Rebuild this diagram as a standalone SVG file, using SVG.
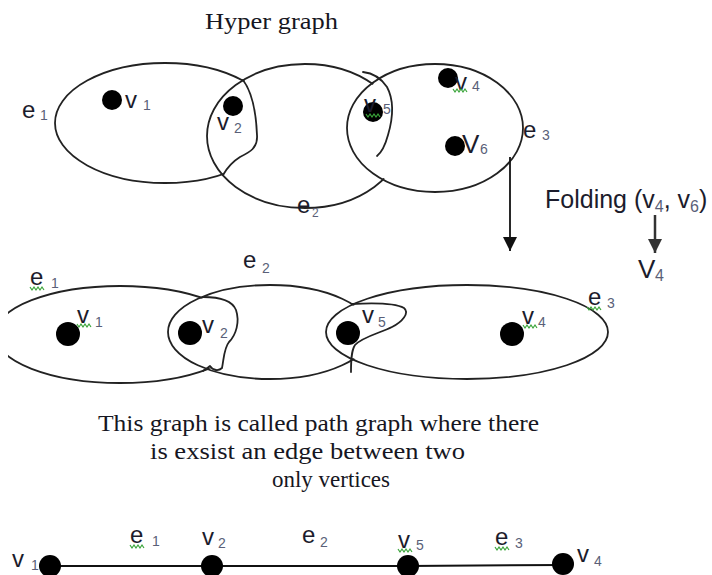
<svg xmlns="http://www.w3.org/2000/svg" xmlns:xlink="http://www.w3.org/1999/xlink" width="712" height="575" viewBox="0 0 712 575">
<style>
.edge{fill:none;stroke:#222;stroke-width:1.8}
.blob{fill:none;stroke:#222;stroke-width:1.8;stroke-linejoin:round;stroke-linecap:round}
.dot{fill:#000}
.lab{font-family:"Liberation Sans","Open Sans",sans-serif;font-size:24px;fill:#1c1c2c}
.cap{font-family:"Liberation Sans","Open Sans",sans-serif;font-size:26px;fill:#1c1c2c}
.sub{font-family:"Liberation Sans","Open Sans",sans-serif;font-size:14px;fill:#5a5f78}
.ser{font-family:"Liberation Serif","Times New Roman",serif;font-size:24px;fill:#161622}
.link{stroke:#111;stroke-width:2;fill:none}
.sq{fill:none;stroke:#3aa53a;stroke-width:1.2}
</style>
<defs>
<marker id="ah" markerUnits="userSpaceOnUse" markerWidth="16" markerHeight="14" refX="14" refY="7" orient="auto"><path d="M0,0 L14,7 L0,14 Z" fill="#111"/></marker>
<marker id="ahg" markerUnits="userSpaceOnUse" markerWidth="16" markerHeight="14" refX="14" refY="7" orient="auto"><path d="M0,0 L14,7 L0,14 Z" fill="#333"/></marker>
<path id="sqg" class="sq" d="M0,0 l2,3 l2,-3 l2,3 l2,-3 l2,3 l2,-3 l2,3"/>
<mask id="mT1" maskUnits="userSpaceOnUse" x="0" y="0" width="712" height="575"><rect width="712" height="575" fill="#fff"/><ellipse cx="305" cy="136" rx="96.5" ry="70.5" fill="#000"/></mask>
<mask id="mT2" maskUnits="userSpaceOnUse" x="0" y="0" width="712" height="575"><rect width="712" height="575" fill="#fff"/><ellipse cx="435" cy="128" rx="86.5" ry="62.5" fill="#000"/></mask>
<mask id="mM1" maskUnits="userSpaceOnUse" x="0" y="0" width="712" height="575"><rect width="712" height="575" fill="#fff"/><rect x="0" y="0" width="8" height="575" fill="#000"/><ellipse cx="270" cy="332" rx="100.5" ry="45.5" fill="#000"/></mask>
<mask id="mM2" maskUnits="userSpaceOnUse" x="0" y="0" width="712" height="575"><rect width="712" height="575" fill="#fff"/><ellipse cx="467" cy="332" rx="139.5" ry="45.5" fill="#000"/></mask>
</defs>
<rect width="712" height="575" fill="#fff"/>

<text class="ser" x="205" y="29" textLength="133" lengthAdjust="spacingAndGlyphs">Hyper graph</text>

<!-- top hyperedges -->
<g id="top-e1">
<ellipse class="edge" cx="165" cy="123" rx="110" ry="60" mask="url(#mT1)"/>
<text class="lab" x="22" y="118">e</text><text class="sub" x="40" y="120">1</text>
</g>
<g id="top-e2">
<ellipse class="edge" cx="305" cy="136" rx="98" ry="72" mask="url(#mT2)"/>
<text class="lab" x="297" y="213">e</text><text class="sub" x="312" y="217" style="font-size:12px">2</text>
</g>
<g id="top-e3">
<ellipse class="edge" cx="435" cy="128" rx="88" ry="64"/>
<text class="lab" x="523" y="138">e</text><text class="sub" x="542" y="140">3</text>
</g>
<g id="top-blobs">
<path class="blob" d="M243,80 C252,92 256,110 257,135 C258,148 250,152 240,157 C232,162 227,168 223,175"/>
<path class="blob" d="M363,72 C372,73 381,78 387,87 C394,100 393,118 388,135 C385,146 382,152 377,156"/>
</g>

<!-- top vertices -->
<g id="top-v1"><circle class="dot" cx="112" cy="100" r="10"/><text class="lab" x="125" y="108">v</text><text class="sub" x="143" y="110">1</text></g>
<g id="top-v2"><circle class="dot" cx="233" cy="106" r="10"/><text class="lab" x="217" y="130">v</text><text class="sub" x="234" y="133">2</text></g>
<g id="top-v5"><circle class="dot" cx="373" cy="112" r="10"/><text class="lab" x="364" y="112">v</text><text class="sub" x="383" y="114">5</text><use xlink:href="#sqg" x="366" y="114"/></g>
<g id="top-v4"><circle class="dot" cx="448" cy="78" r="10"/><text class="lab" x="455" y="90">v</text><text class="sub" x="472" y="91">4</text><use xlink:href="#sqg" x="453" y="89"/></g>
<g id="top-v6"><circle class="dot" cx="455" cy="146" r="10"/><text class="cap" x="462" y="153">V</text><text class="sub" x="480" y="154">6</text></g>

<!-- folding note -->
<g id="folding">
<text class="lab" x="545" y="208" style="font-size:25px">Folding (v<tspan class="sub" style="font-size:16px" dy="4">4</tspan><tspan dy="-4">, v</tspan><tspan class="sub" style="font-size:16px" dy="4">6</tspan><tspan dy="-4">)</tspan></text>
</g>
<g id="result-v4"><text class="cap" x="638" y="278">V</text><text class="sub" x="655" y="281" style="font-size:16px">4</text></g>

<!-- middle hyperedges -->
<g id="mid-e1">
<ellipse class="edge" cx="120" cy="334.5" rx="125" ry="48.5" mask="url(#mM1)"/>
<text class="lab" x="30" y="285">e</text><text class="sub" x="51" y="288">1</text><use xlink:href="#sqg" x="30" y="287"/>
</g>
<g id="mid-e2">
<ellipse class="edge" cx="270" cy="332" rx="102" ry="47" mask="url(#mM2)"/>
<text class="lab" x="243" y="268">e</text><text class="sub" x="262" y="273">2</text>
</g>
<g id="mid-e3">
<ellipse class="edge" cx="467" cy="332" rx="141" ry="47"/>
<text class="lab" x="588" y="305">e</text><text class="sub" x="607" y="308">3</text><use xlink:href="#sqg" x="587" y="307"/>
</g>
<g id="mid-blobs">
<path class="blob" d="M203,297 C218,297 232,300 236,310 C240,322 236,335 229,342 C224,348 224,358 222,368 C219,371 213,371 210,366 C208,368 206,369 203,371"/>
<path class="blob" d="M352,304 C370,303 395,303 404,308 C410,313 402,322 392,327 C380,333 362,337 355,345 C351,351 351,362 351,372"/>
</g>

<!-- middle vertices -->
<g id="mid-v1"><circle class="dot" cx="68" cy="334" r="12"/><text class="lab" x="77" y="323">v</text><text class="sub" x="95" y="327">1</text><use xlink:href="#sqg" x="77" y="324"/></g>
<g id="mid-v2"><circle class="dot" cx="190" cy="333" r="12"/><text class="lab" x="202" y="333">v</text><text class="sub" x="220" y="338">2</text></g>
<g id="mid-v5"><circle class="dot" cx="348" cy="333" r="12"/><text class="lab" x="362" y="323">v</text><text class="sub" x="378" y="327">5</text></g>
<g id="mid-v4"><circle class="dot" cx="512" cy="334" r="12"/><text class="lab" x="522" y="324">v</text><text class="sub" x="538" y="327">4</text><use xlink:href="#sqg" x="523" y="325"/></g>

<!-- caption -->
<text class="ser" x="98" y="431" textLength="441" lengthAdjust="spacingAndGlyphs">This graph is called path graph where there</text>
<text class="ser" x="150" y="459" textLength="315" lengthAdjust="spacingAndGlyphs">is exsist  an edge between two</text>
<text class="ser" x="272" y="487" textLength="118" lengthAdjust="spacingAndGlyphs">only vertices</text>

<!-- connectors -->
<g id="connectors">
<line x1="510" y1="157" x2="510" y2="251" stroke="#111" stroke-width="1.8" marker-end="url(#ah)"/>
<line x1="655" y1="215" x2="655" y2="253" stroke="#333" stroke-width="2.5" marker-end="url(#ahg)"/>
<line class="link" x1="50" y1="566" x2="212" y2="566"/>
<line class="link" x1="212" y1="566" x2="408" y2="566"/>
<line class="link" x1="408" y1="566" x2="563" y2="565"/>
</g>

<!-- path graph -->
<g id="p-v1"><circle class="dot" cx="50" cy="566" r="11"/><text class="lab" x="12" y="567">v</text><text class="sub" x="31" y="570">1</text></g>
<g id="p-e1"><text class="lab" x="130" y="543">e</text><text class="sub" x="152" y="546">1</text><use xlink:href="#sqg" x="130" y="545"/></g>
<g id="p-v2"><circle class="dot" cx="212" cy="566" r="11"/><text class="lab" x="202" y="545">v</text><text class="sub" x="218" y="548">2</text></g>
<g id="p-e2"><text class="lab" x="302" y="543">e</text><text class="sub" x="320" y="547">2</text></g>
<g id="p-v5"><circle class="dot" cx="408" cy="566" r="11"/><text class="lab" x="398" y="548">v</text><text class="sub" x="416" y="550">5</text><use xlink:href="#sqg" x="398" y="549"/></g>
<g id="p-e3"><text class="lab" x="495" y="545">e</text><text class="sub" x="515" y="548">3</text><use xlink:href="#sqg" x="495" y="547"/></g>
<g id="p-v4"><circle class="dot" cx="563" cy="564" r="11"/><text class="lab" x="577" y="562">v</text><text class="sub" x="594" y="566">4</text></g>
</svg>
